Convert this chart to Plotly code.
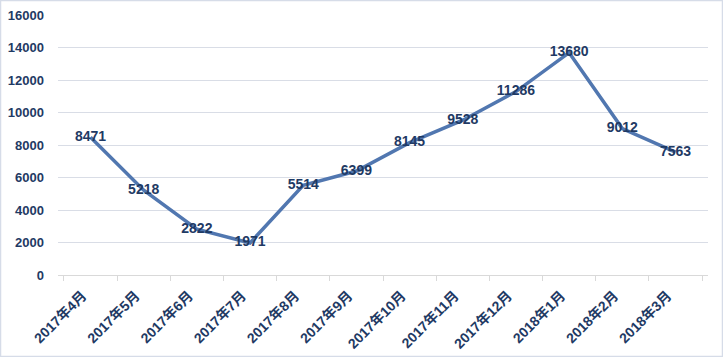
import plotly.graph_objects as go

months = ["2017年4月", "2017年5月", "2017年6月", "2017年7月", "2017年8月", "2017年9月",
          "2017年10月", "2017年11月", "2017年12月", "2018年1月", "2018年2月", "2018年3月"]
values = [8471, 5218, 2822, 1971, 5514, 6399, 8145, 9528, 11286, 13680, 9012, 7563]

navy = "#1F3A64"
font_main = "Liberation Sans, Noto Sans CJK SC"

fig = go.Figure()
fig.add_trace(go.Scatter(
    x=months, y=values, mode="lines+text",
    line=dict(color="#5177B0", width=3.5),
    text=[str(v) for v in values], textposition="middle center",
    textfont=dict(family=font_main, size=14, color=navy, weight="bold"),
    showlegend=False, hoverinfo="skip",
))

W, H = 723, 357
ml, mr, mt, mb = 58, 15, 15, 82
pw, ph = W - ml - mr, H - mt - mb

fig.update_layout(
    width=W, height=H,
    margin=dict(l=ml, r=mr, t=mt, b=mb, autoexpand=False),
    paper_bgcolor="white", plot_bgcolor="white",
    xaxis=dict(
        type="category", tickangle=-45, tickson="boundaries",
        ticks="outside", ticklen=5, tickcolor="#D9D9D9",
        showline=True, linecolor="#D9D9D9", linewidth=1,
        showgrid=False, automargin=False,
        tickfont=dict(family=font_main, size=14, color=navy, weight="bold"),
        ticklabelstandoff=6, ticklabelshift=-8,
    ),
    yaxis=dict(
        range=[0, 16000], dtick=2000, tickformat="d",
        showgrid=True, gridcolor="#D9DDE6",
        zeroline=False, showline=False, ticks="", automargin=False,
        tickfont=dict(family=font_main, size=13, color=navy, weight="bold"),
        ticklabelstandoff=13,
    ),
    shapes=[dict(
        type="rect", xref="paper", yref="paper",
        x0=(0.5 - ml) / pw, x1=(W - 0.5 - ml) / pw,
        y0=-(mb - 0.5) / ph, y1=1 + (mt - 0.5) / ph,
        line=dict(color="#D6DCE8", width=1.5), layer="below",
    )],
)

fig.write_html(
    "out.html",
    config={"displayModeBar": False},
    post_script="document.body.style.margin='0';document.body.style.overflow='hidden';",
)
